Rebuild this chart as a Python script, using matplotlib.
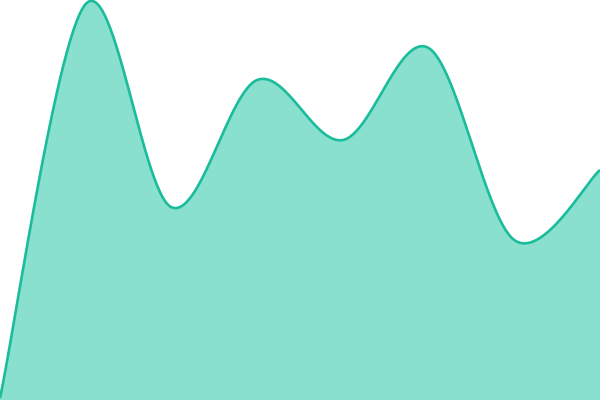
import numpy as np
import matplotlib
matplotlib.use("Agg")
import matplotlib.pyplot as plt

# data
x_vals = [0, 1, 2, 3, 4, 5, 6, 7]
y_vals = [0.5, 99, 48.2, 80, 65, 88, 40, 57.5]

LINE = "#1abc9c"
FILL = "#89e0cf"


def cardinal_curve(xs, ys, n=60):
    """Cardinal spline (tension 0) drawn as cubic bezier segments."""
    xs = np.asarray(xs, float)
    ys = np.asarray(ys, float)
    px = np.concatenate([[xs[0]], xs, [xs[-1]]])
    py = np.concatenate([[ys[0]], ys, [ys[-1]]])
    out_x, out_y = [], []
    t = np.linspace(0, 1, n)
    for i in range(1, len(px) - 2):
        x0, x1, x2, x3 = px[i - 1], px[i], px[i + 1], px[i + 2]
        y0, y1, y2, y3 = py[i - 1], py[i], py[i + 1], py[i + 2]
        c1x, c1y = x1 + (x2 - x0) / 6, y1 + (y2 - y0) / 6
        c2x, c2y = x2 - (x3 - x1) / 6, y2 - (y3 - y1) / 6
        bx = (1 - t) ** 3 * x1 + 3 * (1 - t) ** 2 * t * c1x + 3 * (1 - t) * t ** 2 * c2x + t ** 3 * x2
        by = (1 - t) ** 3 * y1 + 3 * (1 - t) ** 2 * t * c1y + 3 * (1 - t) * t ** 2 * c2y + t ** 3 * y2
        if i > 1:
            bx, by = bx[1:], by[1:]
        out_x.append(bx)
        out_y.append(by)
    return np.concatenate(out_x), np.concatenate(out_y)


cx, cy = cardinal_curve(x_vals, y_vals)

fig = plt.figure(figsize=(6, 4), dpi=100)
ax = fig.add_axes([0, 0, 1, 1])
ax.fill_between(cx, 0, cy, color=FILL, linewidth=0)
ax.plot(cx, cy, color=LINE, linewidth=1.9, solid_capstyle="butt", solid_joinstyle="round")
ax.set_xlim(x_vals[0], x_vals[-1])
ax.set_ylim(0, 100)
ax.axis("off")
fig.savefig("out.png", dpi=100)
